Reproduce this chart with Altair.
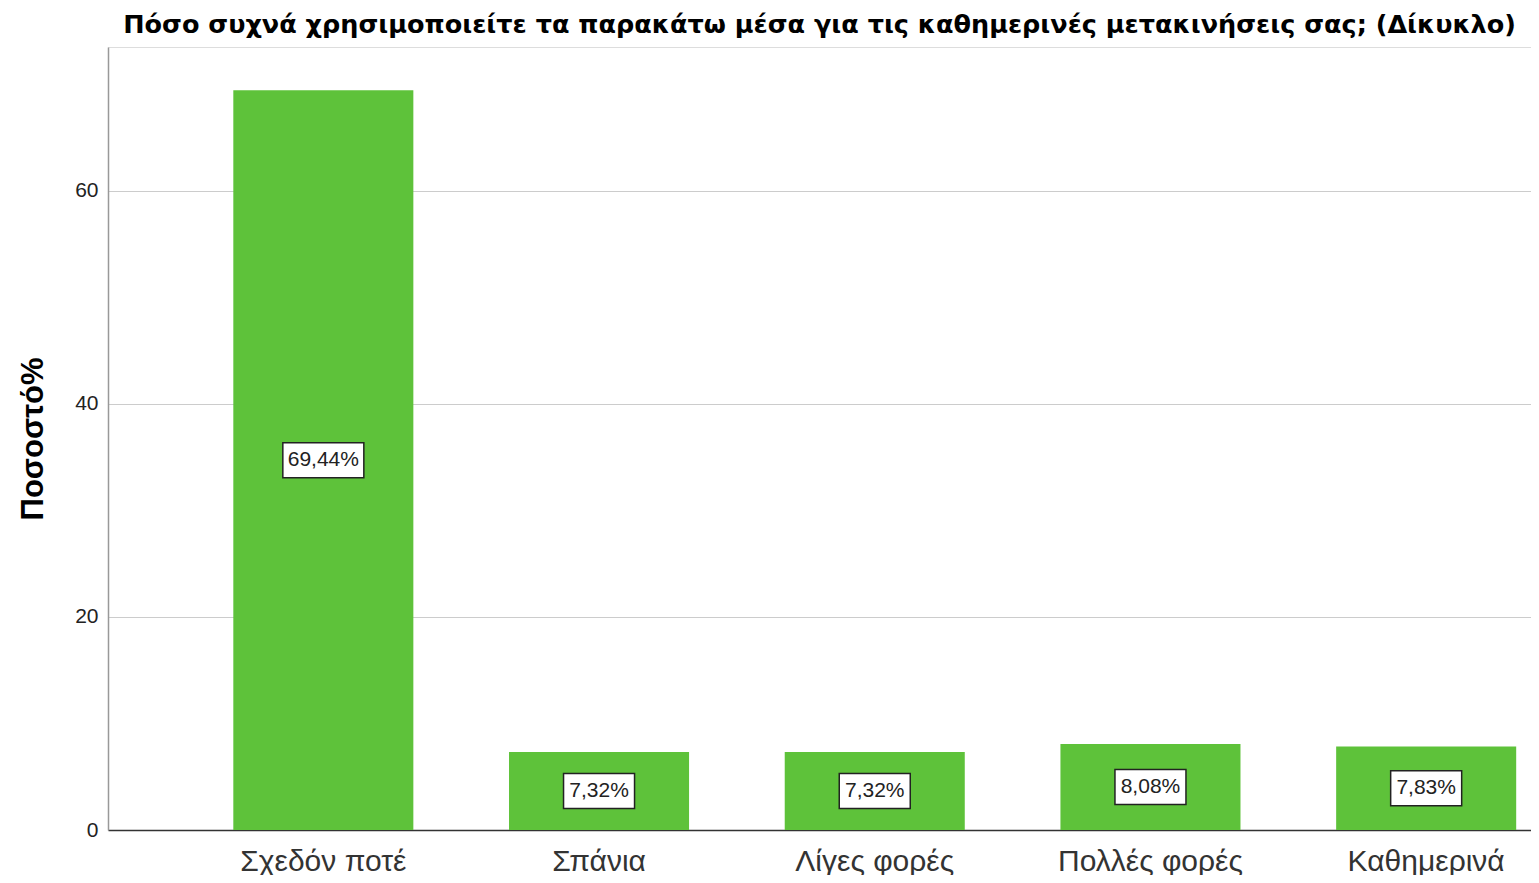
import altair as alt
import pandas as pd

categories = ["Σχεδόν ποτέ", "Σπάνια", "Λίγες φορές", "Πολλές φορές", "Καθημερινά"]
values = [69.44, 7.32, 7.32, 8.08, 7.83]
y_ticks = [0, 20, 40, 60]

title_text = "Πόσο συχνά χρησιμοποιείτε τα παρακάτω μέσα για τις καθημερινές μετακινήσεις σας; (Δίκυκλο)"
y_title = "Ποσοστό%"

df = pd.DataFrame({"cat": categories, "val": values})

PLOT_W = 1423
PLOT_H = 783
Y_MAX = 73.5
BOX_HALF = 17.5 / (PLOT_H / Y_MAX)  # half box height in data units

x_enc = alt.X(
    "cat:N",
    sort=categories,
    scale=alt.Scale(range=[0, 1533.5], paddingInner=0.347, paddingOuter=0.4545),
    axis=alt.Axis(
        title=None,
        labelAngle=0,
        labelFont="Liberation Sans",
        labelFontSize=30,
        labelColor="#333333",
        labelPadding=16,
        labelLimit=500,
        ticks=False,
        domainColor="#333333",
        domainWidth=1.5,
        grid=False,
    ),
)

y_scale = alt.Scale(domain=[0, Y_MAX], nice=False, zero=True)

bars = alt.Chart(df).mark_bar(color="#5ec23a").encode(
    x=x_enc,
    y=alt.Y(
        "val:Q",
        scale=y_scale,
        axis=alt.Axis(
            values=y_ticks,
            title=y_title,
            titleFont="Liberation Sans",
            titleFontSize=31,
            titleFontWeight="bold",
            titleColor="#000000",
            titleAngle=-90,
            titleX=-66,
            titleY=PLOT_H / 2,
            titleBaseline="alphabetic",
            titleAlign="center",
            labelFont="Liberation Sans",
            labelFontSize=21,
            labelColor="#222222",
            labelPadding=10,
            ticks=False,
            domainColor="#999999",
            domainWidth=1.5,
            gridColor="#cccccc",
            gridWidth=1,
        ),
    ),
)

base = alt.Chart(df).transform_calculate(
    mid="datum.val / 2",
    lo="datum.val / 2 - %f" % BOX_HALF,
    hi="datum.val / 2 + %f" % BOX_HALF,
    label="replace(format(datum.val, '.2f'), '.', ',') + '%'",
    n="length(replace(format(datum.val, '.2f'), '.', ',') + '%')",
)

box_wide = base.transform_filter("datum.n >= 6").mark_bar(
    width=81, fill="white", stroke="#222222", strokeWidth=1.5
).encode(
    x=alt.X("cat:N", sort=categories),
    y=alt.Y("lo:Q", scale=y_scale),
    y2="hi:Q",
)
box_narrow = base.transform_filter("datum.n < 6").mark_bar(
    width=71, fill="white", stroke="#222222", strokeWidth=1.5
).encode(
    x=alt.X("cat:N", sort=categories),
    y=alt.Y("lo:Q", scale=y_scale),
    y2="hi:Q",
)

texts = base.mark_text(
    font="Liberation Sans", fontSize=21, color="#222222", baseline="middle", align="center"
).encode(
    x=alt.X("cat:N", sort=categories),
    y=alt.Y("mid:Q", scale=y_scale),
    text="label:N",
)

chart = alt.layer(bars, box_wide, box_narrow, texts).properties(
    width=PLOT_W,
    height=PLOT_H,
    padding={"left": 100, "top": 39, "right": 0, "bottom": 45},
    autosize=alt.AutoSizeParams(type="none"),
    title=alt.TitleParams(
        text=title_text,
        font="DejaVu Sans",
        fontSize=25.5,
        fontWeight="bold",
        color="#000000",
        anchor="middle",
        baseline="bottom",
        offset=8,
        dy=24,
    ),
).configure_view(stroke=None).configure(background="white")

chart.save("out.html", embed_options={"renderer": "svg", "actions": False})
